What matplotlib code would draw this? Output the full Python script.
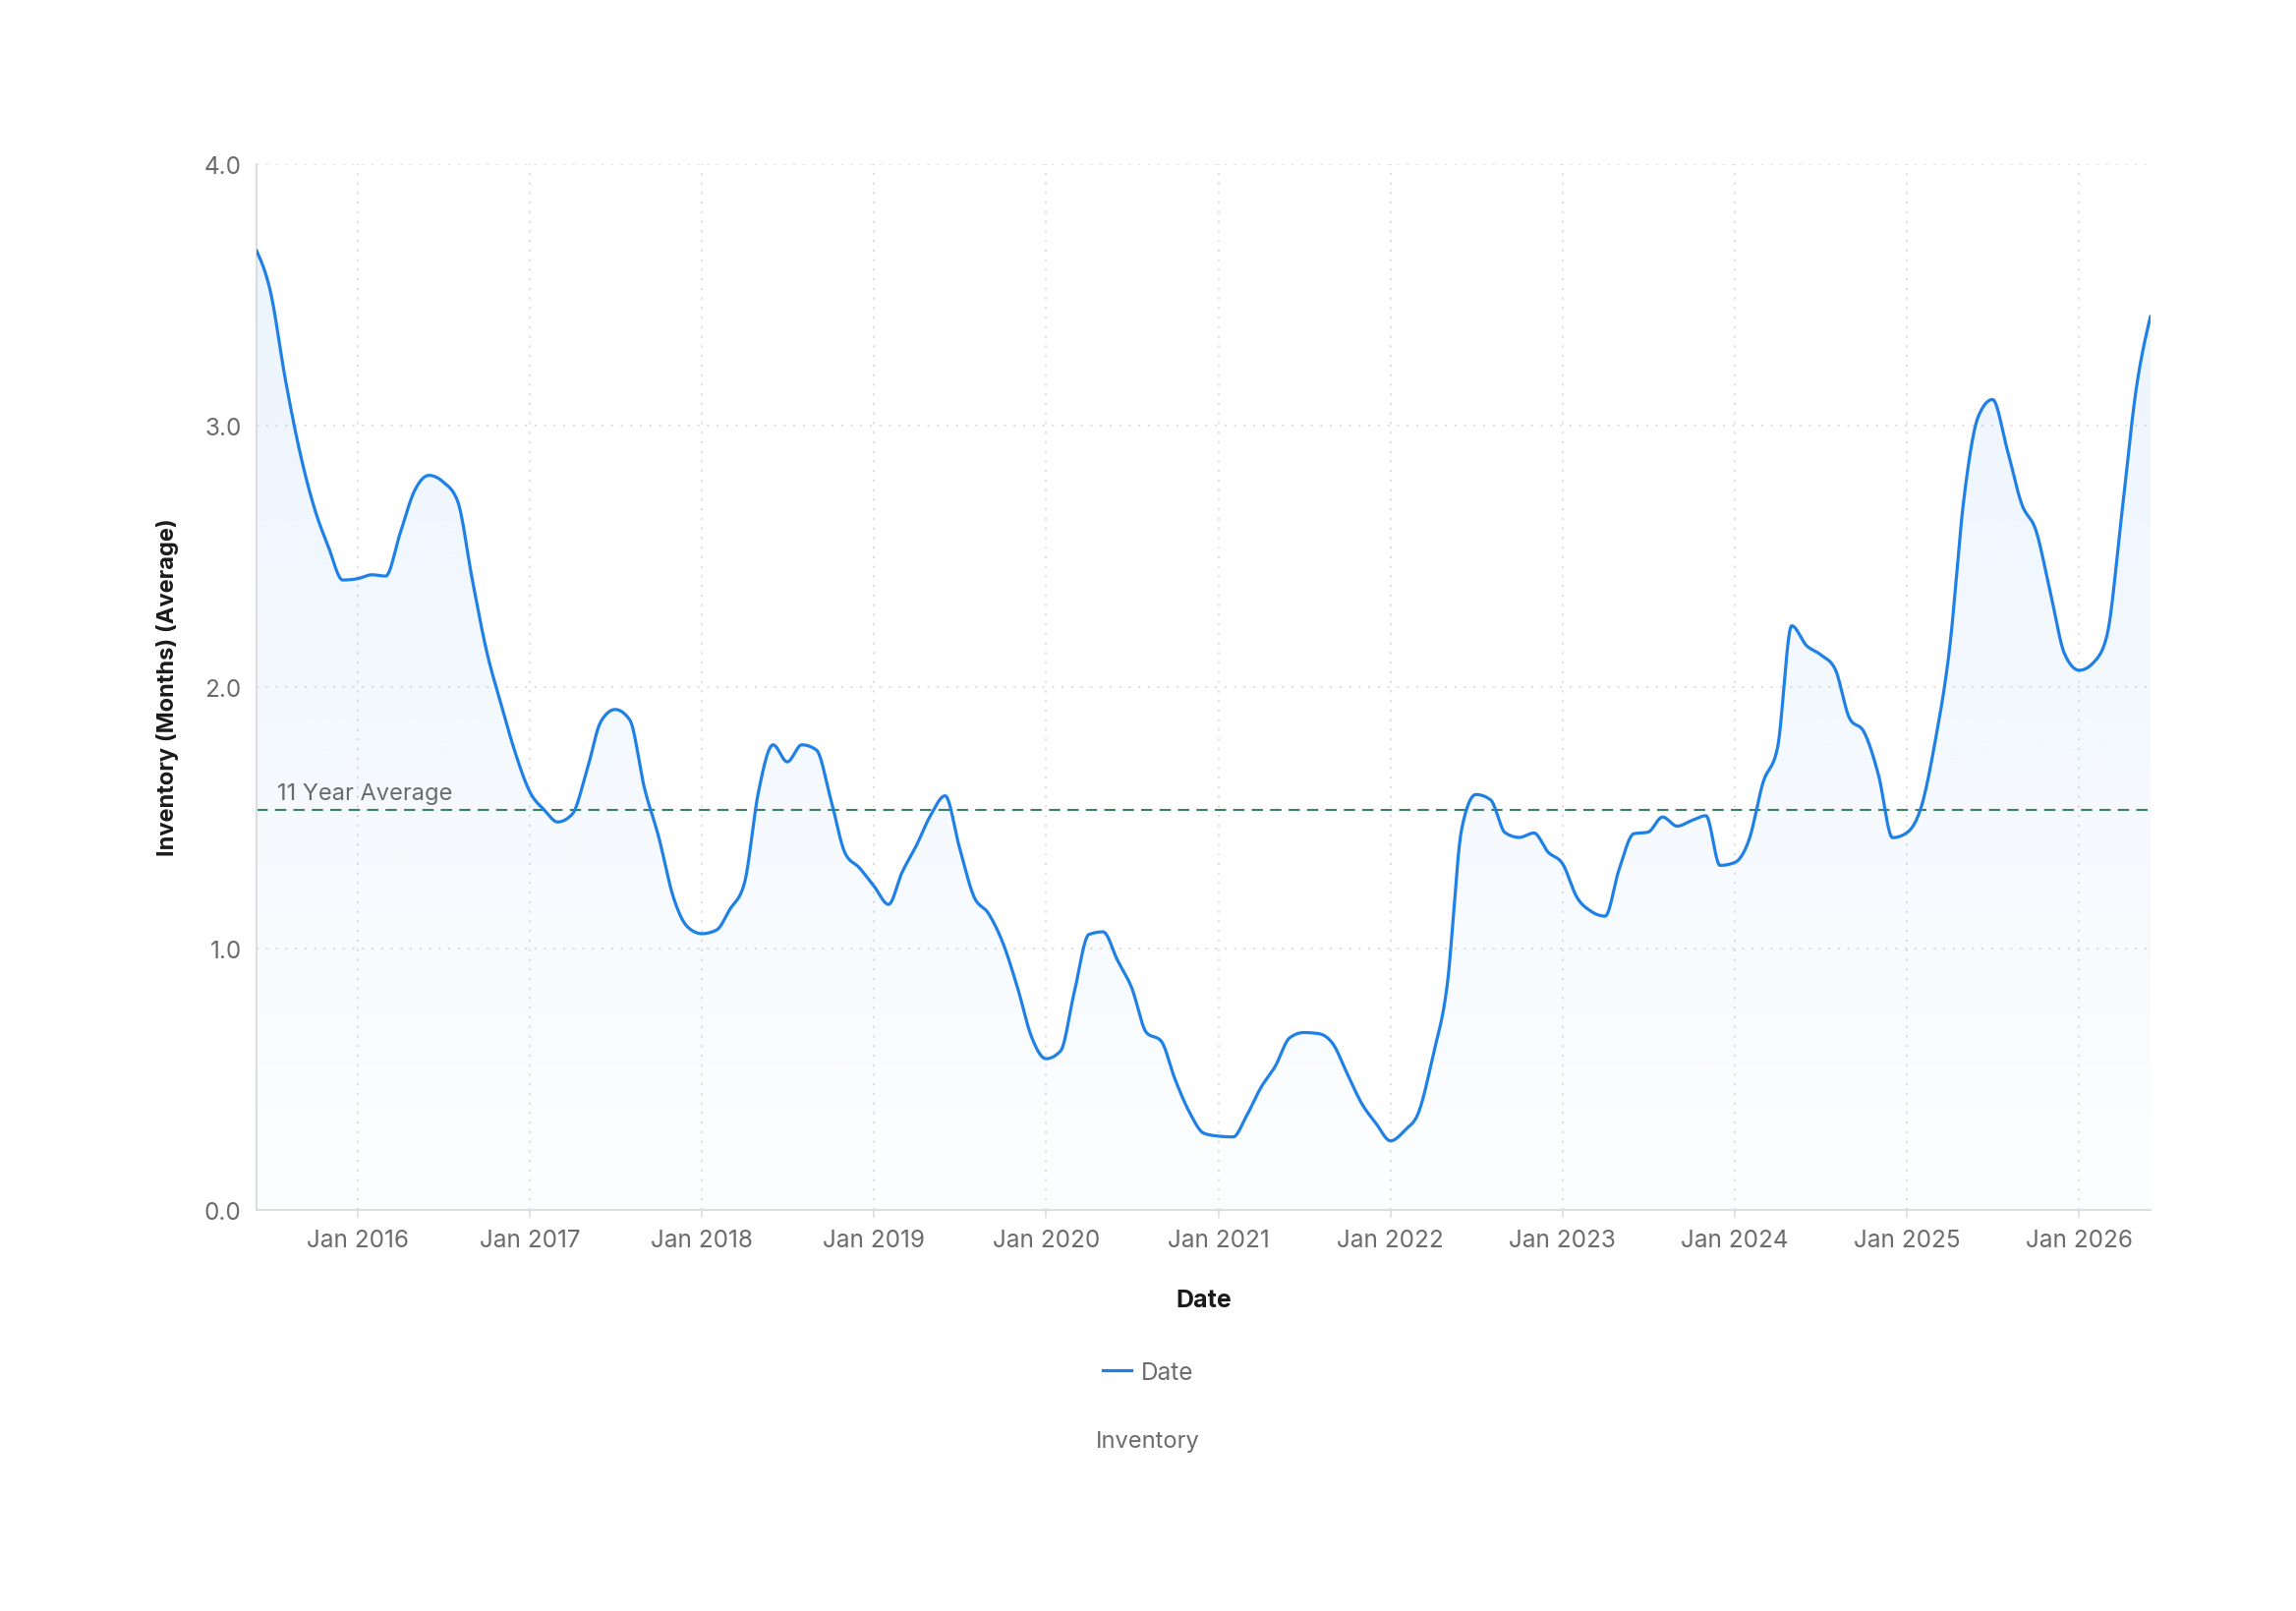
import numpy as np
import pandas as pd
import matplotlib
matplotlib.use("Agg")
import matplotlib.pyplot as plt
import matplotlib.dates as mdates
from matplotlib.lines import Line2D

plt.rcParams['font.family'] = ['Inter', 'DejaVu Sans']

# ---------------- data ----------------
start_month = "2015-06-01"
inventory = [
    3.67, 3.51, 3.18, 2.90, 2.69, 2.535, 2.41, 2.415, 2.43, 2.425,
    2.59, 2.75, 2.81, 2.785, 2.71, 2.41, 2.14, 1.935, 1.75, 1.60,
    1.53, 1.485, 1.515, 1.675, 1.87, 1.915, 1.875, 1.615, 1.43, 1.20,
    1.085, 1.058, 1.072, 1.15, 1.25, 1.60, 1.78, 1.715, 1.78, 1.76,
    1.575, 1.365, 1.31, 1.24, 1.17, 1.29, 1.395, 1.51, 1.585, 1.39,
    1.20, 1.135, 1.025, 0.855, 0.665, 0.58, 0.61, 0.835, 1.055, 1.065,
    0.955, 0.85, 0.68, 0.648, 0.50, 0.373, 0.295, 0.284, 0.281, 0.36,
    0.47, 0.55, 0.66, 0.68, 0.676, 0.636, 0.523, 0.408, 0.333, 0.266,
    0.308, 0.373, 0.592, 0.86, 1.46, 1.59, 1.57, 1.444, 1.426, 1.443,
    1.37, 1.325, 1.195, 1.145, 1.125, 1.305, 1.44, 1.446, 1.504, 1.469,
    1.49, 1.509, 1.319, 1.33, 1.42, 1.635, 1.77, 2.235, 2.16, 2.125,
    2.07, 1.88, 1.83, 1.665, 1.425, 1.445, 1.55, 1.79, 2.15, 2.716,
    3.036, 3.10, 2.91, 2.70, 2.60, 2.36, 2.127, 2.065, 2.096, 2.20,
    2.66, 3.13, 3.418,
]
dates = pd.date_range(start_month, periods=len(inventory), freq="MS")
average_value = 1.53
average_label = "11 Year Average"
y_ticks = [0.0, 1.0, 2.0, 3.0, 4.0]
x_tick_years = list(range(2016, 2027))

# ---------------- styles ----------------
LINE_COLOR = "#1f80e6"
AVG_COLOR = "#3b8060"
TEXT_GRAY = "#6b6b6b"
GRID_COLOR = "#dcdcdc"
SPINE_COLOR = "#dddddd"


def monotone_x(x, y, n=24):
    """d3 curveMonotoneX style interpolation."""
    x = np.asarray(x, float)
    y = np.asarray(y, float)
    h = np.diff(x)
    s = np.diff(y) / h
    t = np.zeros_like(y)
    for i in range(1, len(y) - 1):
        s0, s1 = s[i - 1], s[i]
        p = (s0 * h[i] + s1 * h[i - 1]) / (h[i - 1] + h[i])
        t[i] = (np.sign(s0) + np.sign(s1)) * min(abs(s0), abs(s1), 0.5 * abs(p))
    t[0] = (3 * s[0] - t[1]) / 2 if len(y) > 2 else s[0]
    t[-1] = (3 * s[-1] - t[-2]) / 2 if len(y) > 2 else s[-1]
    xs, ys = [], []
    for i in range(len(h)):
        u = np.linspace(0, 1, n, endpoint=(i == len(h) - 1))
        h00 = 2 * u**3 - 3 * u**2 + 1
        h10 = u**3 - 2 * u**2 + u
        h01 = -2 * u**3 + 3 * u**2
        h11 = u**3 - u**2
        xs.append(x[i] + u * h[i])
        ys.append(h00 * y[i] + h10 * h[i] * t[i] + h01 * y[i + 1] + h11 * h[i] * t[i + 1])
    return np.concatenate(xs), np.concatenate(ys)


fig = plt.figure(figsize=(23.36, 16.4), dpi=100)
ax = fig.add_axes([0.1117, 0.2485, 0.8249, 0.6491])

xnum = mdates.date2num(dates)
xs, ys = monotone_x(xnum, inventory)

# gradient fill under the curve
poly = ax.fill_between(xs, ys, 0, color="none", lw=0)
grad = np.zeros((256, 1, 4))
rgb = matplotlib.colors.to_rgb(LINE_COLOR)
grad[:, 0, 0] = rgb[0]
grad[:, 0, 1] = rgb[1]
grad[:, 0, 2] = rgb[2]
grad[:, 0, 3] = np.linspace(0.012, 0.095, 256)
im = ax.imshow(grad, extent=[xnum[0], xnum[-1], 0, 4], aspect="auto",
               origin="lower", zorder=1, interpolation="bilinear")
im.set_clip_path(poly.get_paths()[0], transform=ax.transData)

ax.plot(xs, ys, color=LINE_COLOR, lw=2.3, zorder=3, solid_capstyle="round")

ax.axhline(average_value, color=AVG_COLOR, lw=1.5, ls=(0, (5.5, 3.5)), zorder=2)
ax.text(mdates.date2num(pd.Timestamp("2015-07-15")), average_value + 0.022, average_label,
        fontsize=17, color=TEXT_GRAY, ha="left", va="bottom", zorder=4)

ax.set_xlim(xnum[0], xnum[-1])
ax.set_ylim(0, 4)
ax.set_yticks(y_ticks)
ax.set_yticklabels([f"{v:.1f}" for v in y_ticks])
ax.set_xticks(mdates.date2num([pd.Timestamp(f"{yr}-01-01") for yr in x_tick_years]))
ax.xaxis.set_major_formatter(mdates.DateFormatter("Jan %Y"))

ax.grid(True, color=GRID_COLOR, lw=1.3, ls=(0, (1.2, 4.2)))
ax.set_axisbelow(True)
for side in ["top", "right"]:
    ax.spines[side].set_visible(False)
for side in ["left", "bottom"]:
    ax.spines[side].set_color(SPINE_COLOR)
    ax.spines[side].set_linewidth(1.5)

ax.tick_params(axis="x", length=6, width=1.2, color=SPINE_COLOR, labelsize=17.5,
               labelcolor=TEXT_GRAY, pad=7)
ax.tick_params(axis="y", length=0, labelsize=17.5, labelcolor=TEXT_GRAY, pad=11)

ax.set_xlabel("Date", fontsize=18, fontweight="bold", color="#1a1a1a", labelpad=28)
fig.text(0.0732, 0.5738, "Inventory (Months) (Average)", rotation=90,
         fontsize=17, fontweight="bold", color="#1a1a1a", ha="center", va="center")

handle = Line2D([], [], color=LINE_COLOR, lw=2.3)
fig.legend([handle], ["Date"], loc="center", bbox_to_anchor=(0.5, 0.148),
           frameon=False, fontsize=17.5, labelcolor=TEXT_GRAY,
           handlelength=1.2, handletextpad=0.4)
fig.text(0.5, 0.1055, "Inventory", fontsize=17, color=TEXT_GRAY, ha="center", va="center")

fig.savefig("out.png", dpi=100, facecolor="white")
